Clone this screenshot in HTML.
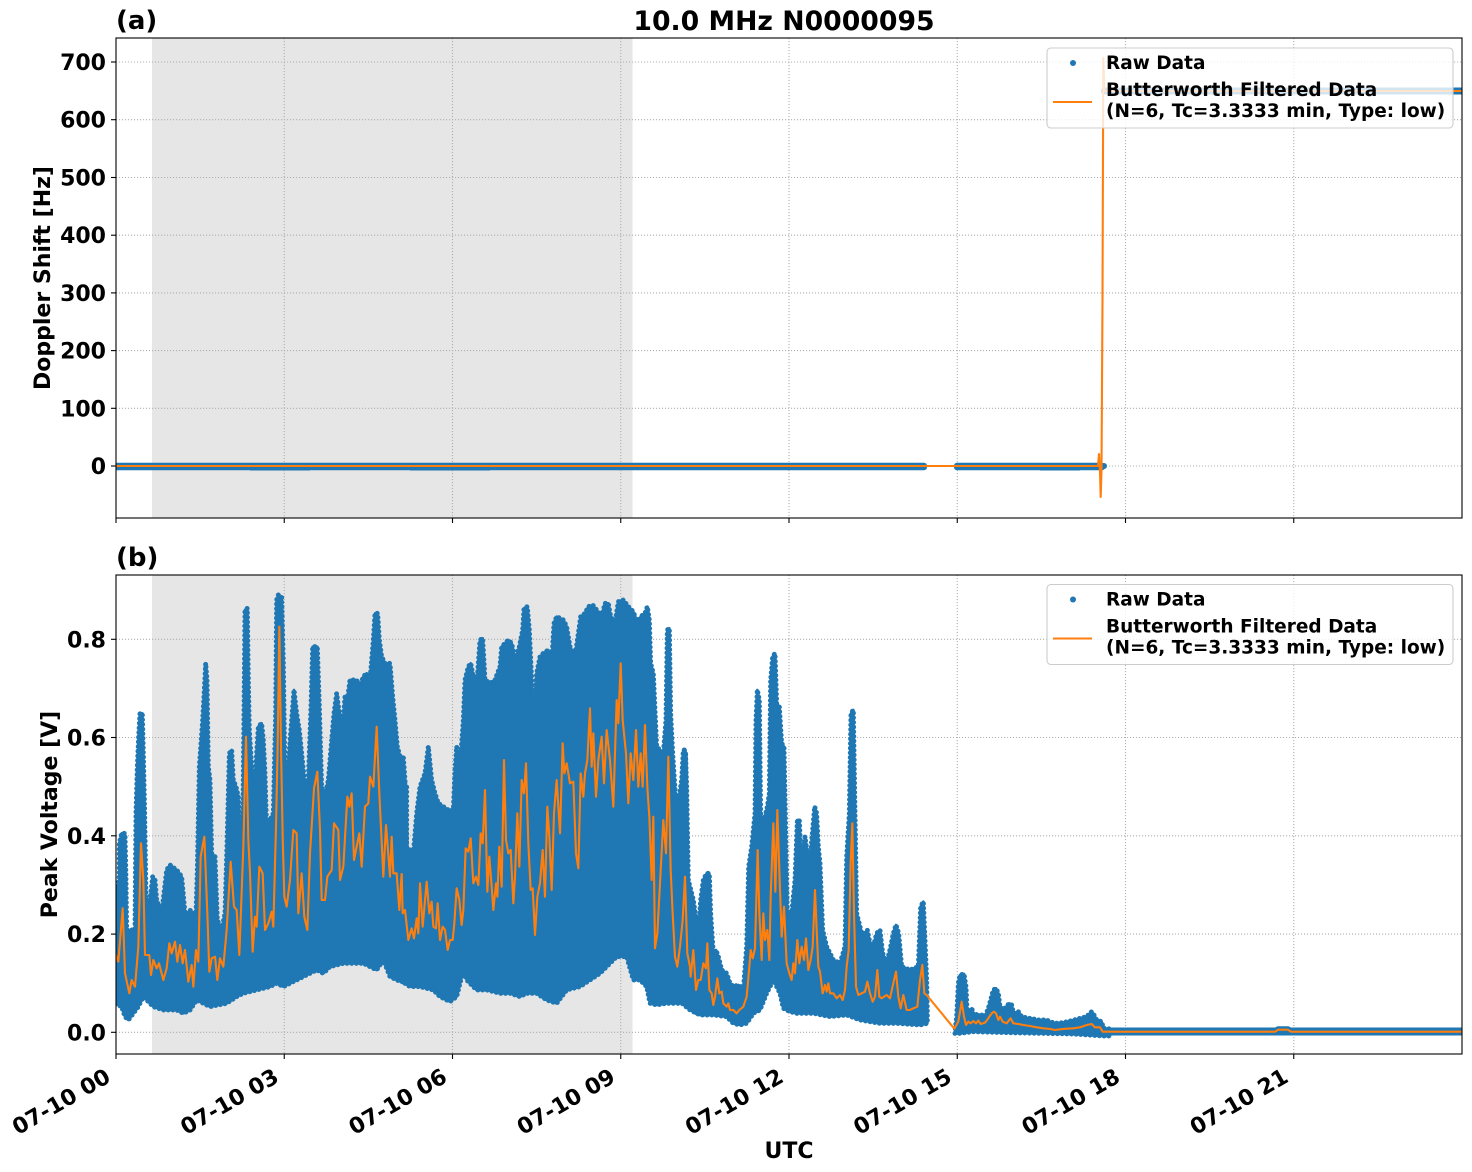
<!DOCTYPE html>
<html>
<head>
<meta charset="utf-8">
<style>
html,body{margin:0;padding:0;background:#fff;}
svg{display:block;}
text{font-family:"DejaVu Sans","Liberation Sans",sans-serif;font-weight:bold;fill:#000;}
</style>
</head>
<body>
<svg width="1472" height="1172" viewBox="0 0 1472 1172" xmlns="http://www.w3.org/2000/svg" xmlns:xlink="http://www.w3.org/1999/xlink">
<defs>
<clipPath id="ca"><rect x="116" y="38" width="1346" height="480"/></clipPath>
<clipPath id="cb"><rect x="116" y="575" width="1346" height="479"/></clipPath>
<polygon id="p7" transform="translate(110,580) scale(0.33333)" points="14,960 28,900 28,790 35,760 45,760 48,900 50,1050 75,1050 78,700 82,560 86,470 90,400 97,400 100,520 104,700 108,950 112,990 120,960 128,890 135,900 140,960 155,1000 170,870 180,855 200,870 215,890 225,1000 235,1000 240,990 245,1000 258,1000 262,870 268,560 278,420 283,330 287,250 291,300 295,560 300,600 305,820 315,830 322,1020 335,1050 345,1000 352,760 358,520 365,510 370,600 378,620 385,650 390,800 398,780 402,400 405,90 412,85 415,300 418,450 425,560 435,600 445,440 455,430 460,480 465,580 470,750 480,720 490,700 497,400 500,60 505,45 515,50 520,250 525,600 535,550 545,420 552,330 560,400 568,450 575,520 585,620 595,600 603,380 608,200 622,200 628,380 635,620 645,650 655,600 665,480 672,400 680,340 688,400 700,420 705,350 712,360 720,300 740,300 750,320 760,290 770,280 780,300 790,180 795,100 803,100 808,180 815,230 825,250 840,250 848,350 855,420 862,500 870,530 880,600 890,620 890,1210 860,1200 840,1190 820,1140 800,1170 760,1150 700,1150 660,1160 640,1180 620,1170 600,1180 560,1200 520,1220 500,1210 480,1220 440,1230 400,1240 380,1250 350,1270 300,1280 280,1270 260,1260 240,1290 220,1300 200,1290 160,1290 130,1280 120,1270 100,1250 85,1280 70,1300 55,1320 45,1310 35,1280 14,1270"/>
<polygon id="p8" transform="translate(400,580) scale(0.33333)" points="0,530 10,530 15,600 20,800 40,820 50,700 60,620 75,580 85,500 95,600 105,640 115,670 130,680 145,690 160,690 165,570 170,500 180,560 190,420 195,300 205,260 212,250 218,280 230,320 240,180 248,175 255,300 270,310 285,300 300,260 305,200 315,190 325,180 335,190 345,240 358,200 368,150 372,85 382,80 388,150 395,300 400,420 410,280 420,230 430,220 445,210 455,250 462,130 470,110 490,120 500,140 510,200 525,230 535,160 542,110 555,100 565,80 578,75 590,90 605,110 615,70 625,70 632,110 645,130 655,65 670,60 685,80 700,95 712,130 722,110 735,100 742,80 748,120 752,250 760,280 770,500 790,520 798,420 802,150 808,145 812,400 818,520 830,700 845,600 850,510 856,510 860,620 865,900 880,960 890,1030 890,1300 870,1270 840,1270 800,1270 770,1275 750,1270 740,1220 720,1200 700,1200 680,1130 650,1130 630,1150 600,1180 570,1200 540,1220 500,1230 470,1270 440,1260 410,1240 380,1240 360,1250 330,1240 300,1240 260,1230 230,1230 200,1200 190,1170 170,1250 150,1265 120,1250 100,1230 60,1220 30,1220 0,1200"/>
<polygon id="p9" transform="translate(680,580) scale(0.33333)" points="0,900 5,850 8,600 12,510 17,520 20,800 25,940 35,960 45,1040 55,1060 62,960 70,900 80,880 88,880 92,1000 100,1120 108,1110 115,1130 125,1170 140,1180 150,1210 160,1220 175,1215 190,1230 200,1100 206,860 215,800 225,700 228,420 232,330 238,360 242,700 248,740 262,680 268,640 272,300 278,230 285,220 290,370 298,380 305,490 312,500 318,800 322,1000 335,1000 345,900 352,720 358,720 365,880 375,770 382,820 390,840 398,750 404,680 410,700 415,800 420,850 428,1050 440,1100 460,1140 480,1150 495,1100 500,830 508,700 513,400 520,390 525,700 530,1000 545,1060 555,1060 562,1050 570,1090 580,1100 590,1060 600,1050 608,1120 620,1150 632,1100 640,1060 648,1035 656,1060 665,1160 690,1170 715,1160 722,980 730,965 735,1080 740,1200 742,1300 742,1330 720,1335 650,1330 600,1330 540,1320 500,1305 450,1310 400,1300 350,1300 330,1295 310,1285 300,1240 280,1200 260,1240 240,1290 220,1300 200,1330 180,1335 160,1330 140,1310 100,1305 60,1305 30,1290 0,1265"/>
<polygon id="p12" transform="translate(940,950) scale(0.33333)" points="45,250 45,245 50,200 55,100 60,75 72,72 78,110 82,200 90,180 95,175 100,190 105,200 110,190 118,200 125,195 135,200 145,175 152,150 160,120 168,115 175,130 180,170 190,180 208,160 215,165 220,190 235,185 245,200 265,205 275,205 290,210 300,210 320,210 330,215 345,220 370,218 395,212 420,205 440,200 455,185 462,195 470,210 485,215 490,235 510,237 510,258 490,258 400,252 300,250 200,248 100,245 60,250"/>
</defs>
<rect width="1472" height="1172" fill="#fff"/>

<!-- ============ PANEL A ============ -->
<g clip-path="url(#ca)">
<rect x="152" y="38" width="480.5" height="480" fill="#e6e6e6"/>
<g stroke="#b0b0b0" stroke-width="1.1" stroke-dasharray="1.1 1.9" fill="none">
<line x1="116" y1="466" x2="1462" y2="466"/>
<line x1="116" y1="408.3" x2="1462" y2="408.3"/>
<line x1="116" y1="350.6" x2="1462" y2="350.6"/>
<line x1="116" y1="292.9" x2="1462" y2="292.9"/>
<line x1="116" y1="235.2" x2="1462" y2="235.2"/>
<line x1="116" y1="177.5" x2="1462" y2="177.5"/>
<line x1="116" y1="119.7" x2="1462" y2="119.7"/>
<line x1="116" y1="62" x2="1462" y2="62"/>
<line x1="284.25" y1="38" x2="284.25" y2="518"/>
<line x1="452.5" y1="38" x2="452.5" y2="518"/>
<line x1="620.75" y1="38" x2="620.75" y2="518"/>
<line x1="789" y1="38" x2="789" y2="518"/>
<line x1="957.25" y1="38" x2="957.25" y2="518"/>
<line x1="1125.5" y1="38" x2="1125.5" y2="518"/>
<line x1="1293.75" y1="38" x2="1293.75" y2="518"/>
</g>
<g fill="#1f77b4">
<rect x="114" y="462.8" width="813" height="7.4" rx="3"/>
<rect x="954" y="462.8" width="151" height="7.4" rx="3"/>
<rect x="1101" y="87.5" width="365" height="7" rx="3"/>
<circle cx="1104" cy="466" r="3"/>
</g>
<g fill="#1f77b4" opacity="0.35">
<rect x="1040" y="468" width="40" height="3"/>
<rect x="250" y="469" width="60" height="2"/>
<rect x="410" y="469" width="80" height="2"/>
</g>
<polyline fill="none" stroke="#ff7f0e" stroke-width="2.1" stroke-linejoin="round"
points="116,466 1098,466 1099,454 1100,472 1100.7,497 1101.5,470 1102.5,300 1103.3,58 1104.3,91 1462,91"/>
</g>

<!-- Legend A -->
<rect x="1047" y="48" width="406" height="80" rx="4" fill="#fff" fill-opacity="0.8" stroke="#cccccc" stroke-width="1.1"/>
<circle cx="1073" cy="63" r="3" fill="#1f77b4"/>
<line x1="1053" y1="102" x2="1092" y2="102" stroke="#ff7f0e" stroke-width="2.1"/>
<text x="1106" y="69" font-size="18.5">Raw Data</text>
<text x="1106" y="96" font-size="18.5">Butterworth Filtered Data</text>
<text x="1106" y="117" font-size="18.5">(N=6, Tc=3.3333 min, Type: low)</text>

<!-- spines A -->
<rect x="116" y="38" width="1346" height="480" fill="none" stroke="#000" stroke-width="1.1"/>
<g stroke="#000" stroke-width="1.1">
<line x1="111" y1="466" x2="116" y2="466"/>
<line x1="111" y1="408.3" x2="116" y2="408.3"/>
<line x1="111" y1="350.6" x2="116" y2="350.6"/>
<line x1="111" y1="292.9" x2="116" y2="292.9"/>
<line x1="111" y1="235.2" x2="116" y2="235.2"/>
<line x1="111" y1="177.5" x2="116" y2="177.5"/>
<line x1="111" y1="119.7" x2="116" y2="119.7"/>
<line x1="111" y1="62" x2="116" y2="62"/>
<line x1="116" y1="518" x2="116" y2="523"/>
<line x1="284.25" y1="518" x2="284.25" y2="523"/>
<line x1="452.5" y1="518" x2="452.5" y2="523"/>
<line x1="620.75" y1="518" x2="620.75" y2="523"/>
<line x1="789" y1="518" x2="789" y2="523"/>
<line x1="957.25" y1="518" x2="957.25" y2="523"/>
<line x1="1125.5" y1="518" x2="1125.5" y2="523"/>
<line x1="1293.75" y1="518" x2="1293.75" y2="523"/>
</g>
<g font-size="22" text-anchor="end">
<text x="106" y="474">0</text>
<text x="106" y="416.3">100</text>
<text x="106" y="358.6">200</text>
<text x="106" y="300.9">300</text>
<text x="106" y="243.2">400</text>
<text x="106" y="185.5">500</text>
<text x="106" y="127.7">600</text>
<text x="106" y="70">700</text>
</g>
<text transform="translate(50,278) rotate(-90)" font-size="22" text-anchor="middle">Doppler Shift [Hz]</text>
<text x="116" y="29" font-size="26">(a)</text>
<text x="784" y="30" font-size="26.7" text-anchor="middle">10.0 MHz N0000095</text>

<!-- ============ PANEL B ============ -->
<g clip-path="url(#cb)">
<rect x="152" y="575" width="480.5" height="479" fill="#e6e6e6"/>
<g stroke="#b0b0b0" stroke-width="1.1" stroke-dasharray="1.1 1.9" fill="none">
<line x1="116" y1="1032.3" x2="1462" y2="1032.3"/>
<line x1="116" y1="934.1" x2="1462" y2="934.1"/>
<line x1="116" y1="835.8" x2="1462" y2="835.8"/>
<line x1="116" y1="737.5" x2="1462" y2="737.5"/>
<line x1="116" y1="639.3" x2="1462" y2="639.3"/>
<line x1="284.25" y1="575" x2="284.25" y2="1054"/>
<line x1="452.5" y1="575" x2="452.5" y2="1054"/>
<line x1="620.75" y1="575" x2="620.75" y2="1054"/>
<line x1="789" y1="575" x2="789" y2="1054"/>
<line x1="957.25" y1="575" x2="957.25" y2="1054"/>
<line x1="1125.5" y1="575" x2="1125.5" y2="1054"/>
<line x1="1293.75" y1="575" x2="1293.75" y2="1054"/>
</g>

<g fill="#1f77b4" stroke="#1f77b4" stroke-width="8" stroke-linejoin="round">
<use xlink:href="#p7" href="#p7"/>
<use xlink:href="#p8" href="#p8"/>
<use xlink:href="#p9" href="#p9"/>
<use xlink:href="#p12" href="#p12"/>
</g>
<g fill="none" stroke="#1f77b4" stroke-width="15" stroke-linecap="round" stroke-dasharray="0 14">
<use xlink:href="#p7" href="#p7"/>
<use xlink:href="#p8" href="#p8"/>
<use xlink:href="#p9" href="#p9"/>
<use xlink:href="#p12" href="#p12"/>
</g>
<g fill="#1f77b4">
<rect x="1101" y="1027.5" width="365" height="8" rx="3"/>
<rect x="1275" y="1026.3" width="16" height="9" rx="3"/>
</g>

<g fill="none" stroke="#ff7f0e" stroke-width="2.1" stroke-linejoin="round">
<polyline vector-effect="non-scaling-stroke" transform="translate(110,580) scale(0.33333)" points="14,1115 25,1145 38,985 45,1180 58,1240 65,1200 75,1220 85,1100 93,790 100,900 105,1125 118,1125 123,1185 130,1140 140,1165 147,1150 160,1200 170,1165 178,1090 185,1120 195,1085 202,1145 210,1095 218,1150 225,1110 235,1205 245,1155 250,1220 258,1110 265,1145 272,830 283,770 292,1000 298,1175 305,1135 315,1130 322,1200 330,1135 340,1160 350,1050 362,845 372,980 380,990 388,1125 400,800 408,470 415,780 420,880 428,1115 435,1010 440,1040 448,860 458,880 465,1050 475,1030 485,995 490,1040 498,740 503,500 508,140 513,500 518,770 523,950 530,980 540,900 550,750 560,760 565,1000 575,880 583,1010 592,1050 600,820 612,625 622,575 630,750 635,960 645,960 652,890 665,870 672,730 685,750 690,900 700,860 712,650 718,680 725,640 732,840 740,800 748,760 755,860 765,680 775,670 780,590 790,620 800,440 808,640 820,890 828,735 840,890 845,770 850,880 860,880 868,990 875,880"/>
<polyline vector-effect="non-scaling-stroke" transform="translate(400,580) scale(0.33333)" points="5,880 8,1000 15,990 25,1080 35,1045 42,1075 50,1015 55,1060 60,910 68,1040 80,905 88,1000 95,965 100,1040 108,1045 113,970 120,1080 128,1040 135,1050 143,1110 150,1080 158,1080 163,1030 170,925 178,960 185,1035 190,990 197,805 205,815 212,775 220,910 228,890 235,915 242,760 248,790 255,630 262,935 268,830 275,920 280,990 288,910 292,950 298,800 305,920 312,540 318,780 325,820 332,810 340,970 345,890 352,700 358,860 365,600 372,640 378,550 385,790 392,930 398,925 405,1065 412,950 420,910 428,810 435,950 442,680 448,770 455,930 462,700 470,600 480,760 488,490 493,580 500,550 510,610 520,605 528,820 535,865 542,580 550,650 555,580 562,540 570,385 575,560 580,460 588,650 595,540 605,470 612,610 620,450 630,540 640,680 645,520 650,360 655,430 662,250 668,420 678,520 685,670 692,520 700,600 708,450 715,620 722,520 728,620 735,435 742,620 748,710 755,900 760,710 765,1105 772,1060 780,910 790,720 798,820 805,530 812,870 818,1000 825,1130 832,1160 840,1100 848,1020 855,890 862,1120 870,1160"/>
<polyline vector-effect="non-scaling-stroke" transform="translate(680,580) scale(0.33333)" points="30,1160 32,1190 40,1110 48,1230 55,1200 62,1200 70,1150 78,1165 82,1090 88,1230 95,1240 100,1275 105,1250 112,1195 118,1240 125,1235 130,1270 140,1280 145,1270 150,1290 160,1290 170,1300 178,1290 190,1280 200,1250 208,1160 212,1110 218,1135 225,1105 233,810 238,1000 245,1140 250,1000 255,1080 262,1050 268,1140 272,950 280,730 286,935 292,690 298,870 305,1070 312,980 320,1150 328,1180 335,1200 340,1150 345,1180 352,1080 358,1150 365,1100 372,1140 378,1075 385,1170 392,1140 398,1100 405,930 410,1050 415,1160 420,1175 428,1240 435,1215 440,1235 445,1210 450,1240 460,1240 470,1255 480,1245 488,1260 495,1230 500,1160 506,1110 512,850 517,730 522,1000 528,1220 535,1245 545,1240 555,1235 562,1205 570,1240 578,1265 585,1250 592,1170 598,1250 605,1255 612,1250 620,1245 630,1255 640,1210 648,1175 655,1250 662,1285 670,1245 680,1290 690,1290 700,1285 712,1280 720,1200 727,1155 733,1240 740,1245 822,1345"/>
<polyline vector-effect="non-scaling-stroke" transform="translate(940,950) scale(0.33333)" points="42,238 55,215 65,155 72,200 78,225 85,215 92,220 100,213 108,220 115,212 122,222 135,218 145,205 155,190 162,185 168,190 175,210 180,200 188,215 200,220 212,205 220,220 235,222 250,225 270,228 290,232 310,235 330,237 345,240 360,238 380,236 400,235 420,232 440,225 455,222 465,232 480,232 488,245 510,245"/>
<polyline points="1110,1031.7 1275,1031.7 1278,1029.7 1288,1029.7 1291,1031.7 1462,1031.7"/>
</g>
</g>

<!-- Legend B -->
<rect x="1047" y="584.5" width="406" height="80" rx="4" fill="#fff" fill-opacity="0.8" stroke="#cccccc" stroke-width="1.1"/>
<circle cx="1073" cy="599.5" r="3" fill="#1f77b4"/>
<line x1="1053" y1="638.5" x2="1092" y2="638.5" stroke="#ff7f0e" stroke-width="2.1"/>
<text x="1106" y="605.5" font-size="18.5">Raw Data</text>
<text x="1106" y="632.5" font-size="18.5">Butterworth Filtered Data</text>
<text x="1106" y="653.5" font-size="18.5">(N=6, Tc=3.3333 min, Type: low)</text>

<!-- spines B -->
<rect x="116" y="575" width="1346" height="479" fill="none" stroke="#000" stroke-width="1.1"/>
<g stroke="#000" stroke-width="1.1">
<line x1="111" y1="1032.3" x2="116" y2="1032.3"/>
<line x1="111" y1="934.1" x2="116" y2="934.1"/>
<line x1="111" y1="835.8" x2="116" y2="835.8"/>
<line x1="111" y1="737.5" x2="116" y2="737.5"/>
<line x1="111" y1="639.3" x2="116" y2="639.3"/>
<line x1="116" y1="1054" x2="116" y2="1059"/>
<line x1="284.25" y1="1054" x2="284.25" y2="1059"/>
<line x1="452.5" y1="1054" x2="452.5" y2="1059"/>
<line x1="620.75" y1="1054" x2="620.75" y2="1059"/>
<line x1="789" y1="1054" x2="789" y2="1059"/>
<line x1="957.25" y1="1054" x2="957.25" y2="1059"/>
<line x1="1125.5" y1="1054" x2="1125.5" y2="1059"/>
<line x1="1293.75" y1="1054" x2="1293.75" y2="1059"/>
</g>
<g font-size="22" text-anchor="end">
<text x="106" y="1040.3">0.0</text>
<text x="106" y="942.1">0.2</text>
<text x="106" y="843.8">0.4</text>
<text x="106" y="745.5">0.6</text>
<text x="106" y="647.3">0.8</text>
</g>
<g font-size="22" text-anchor="end">
<text transform="translate(112,1081) rotate(-30)">07-10 00</text>
<text transform="translate(280.25,1081) rotate(-30)">07-10 03</text>
<text transform="translate(448.5,1081) rotate(-30)">07-10 06</text>
<text transform="translate(616.75,1081) rotate(-30)">07-10 09</text>
<text transform="translate(785,1081) rotate(-30)">07-10 12</text>
<text transform="translate(953.25,1081) rotate(-30)">07-10 15</text>
<text transform="translate(1121.5,1081) rotate(-30)">07-10 18</text>
<text transform="translate(1289.75,1081) rotate(-30)">07-10 21</text>
</g>
<text transform="translate(57,814.5) rotate(-90)" font-size="22" text-anchor="middle">Peak Voltage [V]</text>
<text x="116" y="566" font-size="26">(b)</text>
<text x="789" y="1158" font-size="22" text-anchor="middle">UTC</text>
</svg>
</body>
</html>
